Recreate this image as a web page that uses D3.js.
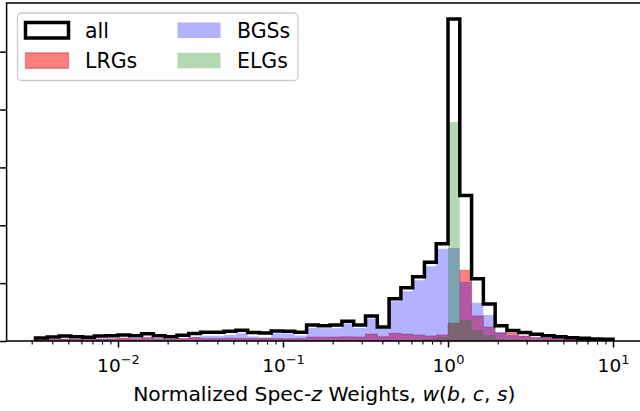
<!DOCTYPE html>
<html>
<head>
<meta charset="utf-8">
<script src="https://cdn.jsdelivr.net/npm/d3@7"></script>
<style>
  html, body { margin: 0; padding: 0; background: #fff; }
  svg { display: block; }
  text { font-family: "DejaVu Sans", sans-serif; fill: #000; }
</style>
</head>
<body>
<svg id="chart" width="640" height="411"></svg>
<script>
// ---- data (bins: 49 log-spaced bins from 10^-2.5 to 10^1) ----
const binLogMin = -2.5;
const binLogMax = 1.0;
const nBins = 49;

const allCounts = [52, 69, 87, 75, 64, 87, 92, 104, 92, 127, 92, 75, 99, 130, 151, 151, 170, 185, 147, 139,
  173, 168, 151, 277, 263, 277, 341, 277, 433, 243, 728, 919, 1109, 1360, 1681, 5563, 2513, 1075, 641, 265,
  182, 147, 116, 92, 75, 57, 47, 35, 29];

const lrgCounts = [21, 28, 35, 31, 26, 35, 38, 52, 38, 62, 38, 31, 42, 61, 43, 43, 49, 45, 43, 47,
  43, 38, 43, 69, 66, 69, 73, 69, 121, 75, 133, 121, 104, 87, 104, 307, 1222, 433, 243, 139,
  139, 87, 61, 52, 43, 35, 26, 17, 17];

const bgsCounts = [23, 31, 38, 35, 29, 38, 42, 43, 42, 55, 42, 35, 45, 69, 92, 92, 104, 133, 78, 61,
  130, 130, 95, 230, 220, 220, 303, 225, 390, 217, 685, 858, 1048, 1291, 1594, 1606, 1022, 659, 451, 156,
  104, 87, 61, 52, 43, 26, 21, 14, 10];

const elgCounts = [5, 5, 5, 5, 5, 5, 5, 5, 5, 5, 5, 5, 5, 5, 5, 9, 9, 9, 9, 9,
  9, 9, 9, 9, 9, 9, 9, 9, 9, 9, 17, 17, 26, 35, 69, 3783, 364, 191, 104, 35,
  26, 17, 12, 9, 7, 5, 4, 3, 3];

const xTickExponents = [-2, -1, 0, 1];
const xTickBase = "10";
const yTickValues = [0, 1000, 2000, 3000, 4000, 5000];

const legendLabels = ["all", "LRGs", "BGSs", "ELGs"];

// ---- setup ----
const svg = d3.select("#chart");
const edges = d3.range(nBins + 1).map(i => Math.pow(10, binLogMin + i * (binLogMax - binLogMin) / nBins));
const span = binLogMax - binLogMin;
const x = d3.scaleLog()
  .domain([Math.pow(10, binLogMin - 0.05 * span), Math.pow(10, binLogMax + 0.05 * span)])
  .range([6.6, 641.9]);
const y = d3.scaleLinear()
  .domain([0, d3.max(allCounts) * 1.05])
  .range([341, 3]);

function stepPoints(vals) {
  const pts = [];
  vals.forEach((v, i) => { pts.push([edges[i], v]); pts.push([edges[i + 1], v]); });
  return pts;
}
const area = d3.area().x(d => x(d[0])).y0(y(0)).y1(d => y(d[1]));
const line = d3.line().x(d => x(d[0])).y(d => y(d[1]));

const plot = svg.append("g");

// LRGs
plot.append("path")
  .attr("d", area(stepPoints(lrgCounts)))
  .attr("fill", "rgb(255,0,0)").attr("fill-opacity", 0.5)
  .attr("stroke", "rgb(128,0,0)").attr("stroke-opacity", 0.3).attr("stroke-width", 1);
// BGSs
plot.append("path")
  .attr("d", area(stepPoints(bgsCounts)))
  .attr("fill", "rgb(0,0,255)").attr("fill-opacity", 0.3);
// ELGs
plot.append("path")
  .attr("d", area(stepPoints(elgCounts)))
  .attr("fill", "rgb(0,128,0)").attr("fill-opacity", 0.3);
// all
const allPts = [[edges[0], 0]].concat(stepPoints(allCounts), [[edges[nBins], 0]]);
plot.append("path")
  .attr("d", line(allPts))
  .attr("fill", "none").attr("stroke", "#000").attr("stroke-width", 3.5)
  .attr("stroke-linejoin", "miter");

// ---- axes ----
const [x0, x1] = x.range();
const [yb, yt] = y.range();

// minor x ticks
const minorTicks = [];
for (let e = -3; e <= 1; e++) {
  for (let m = 2; m <= 9; m++) {
    const v = m * Math.pow(10, e);
    if (v >= x.domain()[0] && v <= x.domain()[1]) minorTicks.push(v);
  }
}
const gMinor = svg.append("g").attr("transform", `translate(0,${yb})`)
  .call(d3.axisBottom(x).tickValues(minorTicks).tickSize(3.6).tickSizeOuter(0).tickFormat(() => ""));
gMinor.select(".domain").remove();
gMinor.selectAll("line").attr("stroke-width", 1.1);

const majorTicks = xTickExponents.map(e => Math.pow(10, e));
const gMajor = svg.append("g").attr("transform", `translate(0,${yb})`)
  .call(d3.axisBottom(x).tickValues(majorTicks).tickSize(6.5).tickSizeOuter(0).tickFormat(() => ""));
gMajor.select(".domain").remove();
gMajor.selectAll("line").attr("stroke-width", 1.5);
gMajor.selectAll(".tick text").remove();
gMajor.selectAll(".tick").each(function(d, i) {
  const t = d3.select(this).append("text")
    .attr("y", 30.5).attr("text-anchor", "middle")
    .style("font-size", "18.5px").attr("fill", "#000");
  t.append("tspan").text(xTickBase);
  const ex = xTickExponents[i];
  t.append("tspan").attr("dy", -8).style("font-size", "13px")
    .text(ex < 0 ? "\u2212" + Math.abs(ex) : String(ex));
});

// y ticks (labels fall outside the visible canvas)
const gY = svg.append("g").attr("transform", `translate(${x0},0)`)
  .call(d3.axisLeft(y).tickValues(yTickValues).tickSize(6.5).tickSizeOuter(0).tickFormat(() => ""));
gY.select(".domain").remove();
gY.selectAll("line").attr("stroke-width", 1.5);

// spines
const spine = svg.append("g").attr("stroke", "#000").attr("stroke-width", 1.5).attr("fill", "none");
spine.append("rect").attr("x", x0).attr("y", yt).attr("width", x1 - x0).attr("height", yb - yt);

// x label
const xl = svg.append("text")
  .attr("x", (x0 + x1) / 2).attr("y", 401)
  .attr("text-anchor", "middle").style("font-size", "20.3px");
xl.append("tspan").text("Normalized Spec-");
xl.append("tspan").style("font-style", "italic").text("z");
xl.append("tspan").text(" Weights, ");
xl.append("tspan").style("font-style", "italic").text("w");
xl.append("tspan").text("(");
xl.append("tspan").style("font-style", "italic").text("b");
xl.append("tspan").text(", ");
xl.append("tspan").style("font-style", "italic").text("c");
xl.append("tspan").text(", ");
xl.append("tspan").style("font-style", "italic").text("s");
xl.append("tspan").text(")");

// ---- legend ----
const lg = svg.append("g");
lg.append("rect").attr("x", 17.5).attr("y", 13).attr("width", 280.5).attr("height", 67.5)
  .attr("rx", 4).attr("fill", "#fff").attr("fill-opacity", 0.8)
  .attr("stroke", "#cccccc").attr("stroke-width", 1.3);

const legendItems = [
  { label: legendLabels[0], col: 0, row: 0, fill: "#fff", fo: 1, stroke: "#000", sw: 3.5, so: 1 },
  { label: legendLabels[1], col: 0, row: 1, fill: "rgb(255,0,0)", fo: 0.5, stroke: "rgb(128,0,0)", sw: 1.5, so: 0.3 },
  { label: legendLabels[2], col: 1, row: 0, fill: "rgb(0,0,255)", fo: 0.3, stroke: "none", sw: 0, so: 0 },
  { label: legendLabels[3], col: 1, row: 1, fill: "rgb(0,128,0)", fo: 0.3, stroke: "none", sw: 0, so: 0 }
];
legendItems.forEach(it => {
  const px = 25.5 + it.col * 152;
  const py = 22.5 + it.row * 30.3;
  lg.append("rect").attr("x", px).attr("y", py).attr("width", 43).attr("height", 15.5)
    .attr("fill", it.fill).attr("fill-opacity", it.fo)
    .attr("stroke", it.stroke).attr("stroke-width", it.sw).attr("stroke-opacity", it.so);
  lg.append("text").attr("x", px + 59.5).attr("y", py + 15.2)
    .style("font-size", "20.5px").text(it.label);
});
</script>
</body>
</html>
